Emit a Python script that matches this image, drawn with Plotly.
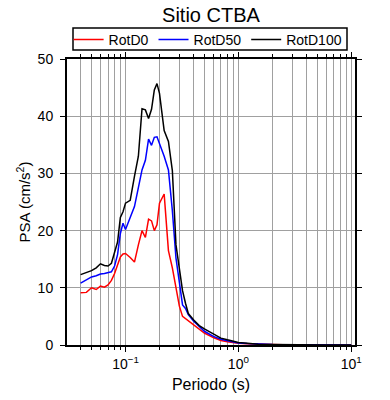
import plotly.graph_objects as go
import numpy as np

periods = [0.040, 0.045, 0.050, 0.055, 0.060, 0.065, 0.070, 0.075, 0.080, 0.085,
           0.090, 0.095, 0.100, 0.110, 0.120, 0.130, 0.140, 0.150, 0.160, 0.170,
           0.180, 0.190, 0.200, 0.220, 0.240, 0.260, 0.280, 0.300, 0.320, 0.340,
           0.360, 0.400, 0.450, 0.500, 0.600, 0.700, 0.800, 0.900, 1.0, 1.2,
           1.5, 2.0, 2.5, 3.0, 4.0, 5.0, 6.0, 7.5, 10.0]

rotd0 = [9.15, 9.2, 10.0, 9.7, 10.3, 10.1, 10.5, 11.3, 12.5, 14.0,
         15.4, 15.9, 16.0, 15.3, 14.5, 17.5, 20.0, 18.8, 22.0, 21.7,
         20.0, 21.0, 24.8, 26.4, 16.5, 13.5, 10.0, 6.8, 5.0, 4.6,
         4.2, 3.5, 2.7, 2.1, 1.3, 0.8, 0.55, 0.4, 0.3, 0.2,
         0.1, 0.07, 0.05, 0.04, 0.03, 0.02, 0.015, 0.01, 0.01]

rotd50 = [10.8, 11.4, 11.9, 12.1, 12.4, 12.5, 12.7, 12.8, 13.8, 15.8,
          19.5, 21.3, 20.2, 22.2, 24.2, 27.5, 30.6, 32.3, 36.0, 34.9,
          36.3, 36.4, 35.3, 33.0, 30.6, 23.5, 15.2, 10.8, 7.0, 6.4,
          5.3, 4.2, 3.2, 2.4, 1.5, 1.0, 0.75, 0.5, 0.35, 0.25,
          0.12, 0.08, 0.06, 0.05, 0.03, 0.02, 0.015, 0.01, 0.01]

rotd100 = [12.3, 12.6, 13.0, 13.5, 14.2, 13.9, 13.8, 14.3, 16.0, 18.0,
           22.3, 23.3, 24.8, 25.3, 29.5, 33.0, 41.3, 41.1, 39.6, 41.2,
           44.6, 45.7, 44.0, 37.5, 35.6, 30.5, 17.5, 13.0, 9.5, 7.3,
           5.5, 4.4, 3.4, 2.8, 1.9, 1.2, 0.9, 0.6, 0.45, 0.3,
           0.15, 0.1, 0.06, 0.05, 0.03, 0.02, 0.02, 0.01, 0.01]

series_names = ["RotD0", "RotD50", "RotD100"]
series_colors = ["#ff0000", "#0000ff", "#000000"]
x_major = [0.1, 1, 10]
x_major_labels = ["10<sup>\u22121</sup>", "10<sup>0</sup>", "10<sup>1</sup>"]
y_ticks = [0, 10, 20, 30, 40, 50]

minor_vals = []
for dec in [0.01, 0.1, 1]:
    for k in range(2, 10):
        minor_vals.append(k * dec)
minor_vals = [v for v in minor_vals if 0.03 <= v <= 10.8]

fig = go.Figure()
for name, color, vals in zip(series_names, series_colors, [rotd0, rotd50, rotd100]):
    fig.add_trace(go.Scatter(x=periods, y=vals, mode="lines", name=name,
                             line=dict(color=color, width=1.5)))

font = "Liberation Sans, Arial, sans-serif"
L, R, T, B, W, H = 67, 35, 59, 55, 390, 400
pw, ph = W - L - R, H - T - B
fig.update_layout(
    width=W, height=H,
    margin=dict(l=L, r=R, t=T, b=B, autoexpand=False),
    paper_bgcolor="white", plot_bgcolor="white",
    font=dict(family=font, size=14, color="black"),
    title=dict(text="Sitio CTBA", x=0.541, xanchor="center", y=0.963, yanchor="middle",
               font=dict(size=20, family=font, color="black")),
    legend=dict(orientation="h", x=0.49, xanchor="center", y=1 + (T - 24) / ph, yanchor="top",
                borderwidth=0, bgcolor="rgba(0,0,0,0)",
                font=dict(size=14, family=font),
                itemwidth=30, tracegroupgap=0),
    showlegend=True,
    shapes=[dict(type="rect", xref="paper", yref="paper",
                 x0=(73 - L) / pw, x1=(347 - L) / pw,
                 y0=1 + (T - 50) / ph, y1=1 + (T - 28) / ph,
                 line=dict(color="black", width=1.5), fillcolor="rgba(0,0,0,0)",
                 layer="below")],
)
fig.update_xaxes(
    type="log", range=[np.log10(0.0303), np.log10(10.8)],
    tickvals=x_major, ticktext=x_major_labels,
    ticks="outside", ticklen=5, tickwidth=1, tickcolor="black",
    showline=True, linecolor="black", linewidth=2, mirror="ticks",
    showgrid=True, gridcolor="#a0a0a0", gridwidth=1,
    minor=dict(tickvals=minor_vals, ticks="outside", ticklen=3, tickcolor="black",
               showgrid=True, gridcolor="#a0a0a0", gridwidth=1),
    title=dict(text="Periodo (s)", font=dict(size=16, family=font), standoff=8),
    zeroline=False,
)
fig.update_yaxes(
    range=[0, 50], tickvals=y_ticks,
    ticks="outside", ticklen=5, tickwidth=1, tickcolor="black",
    ticklabelstandoff=4,
    showline=True, linecolor="black", linewidth=2, mirror="ticks",
    showgrid=True, gridcolor="#a0a0a0", gridwidth=1,
    title=dict(text="PSA (cm/s<sup>2</sup>)", font=dict(size=15, family=font), standoff=3),
    zeroline=False,
)
fig.write_html("out.html", config={"displayModeBar": False},
               post_script="document.body.style.margin='0';")
